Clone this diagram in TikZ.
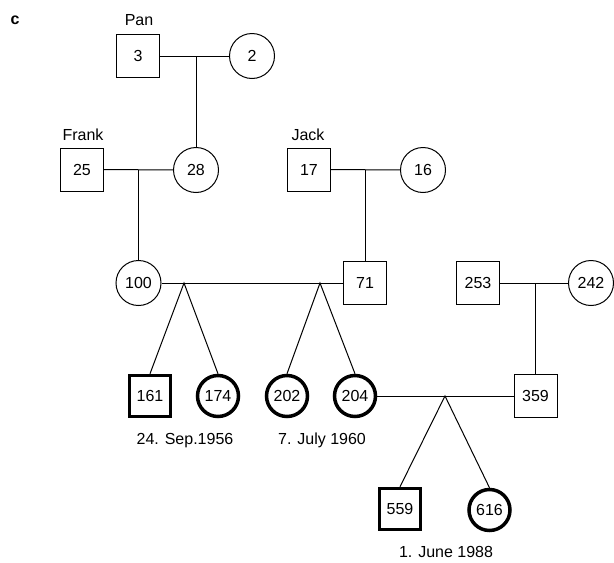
\documentclass[tikz,border=0pt]{standalone}
\usepackage{fontspec}
\setmainfont{Liberation Sans}

\begin{document}
\begin{tikzpicture}[x=1pt, y=-1pt, line width=1pt,
  font=\fontsize{16}{19}\selectfont,
  male/.style={draw, rectangle, minimum size=43pt, inner sep=0pt},
  female/.style={draw, circle, minimum size=45pt, inner sep=0pt},
  aff/.style={line width=3.5pt, minimum size=41pt},
  lbl/.style={anchor=base, inner sep=0pt}]
  \useasboundingbox (0,0) rectangle (614,563);
  \node[lbl, font=\fontsize{16}{19}\selectfont\bfseries] (tag) at (15,24) {c};
  % generation I
  \node[male] (p3) at (138,56) {3};
  \node[female] (p2) at (252,56) {2};
  \node[lbl] (pan) at (139,25) {Pan};
  % generation II
  \node[male] (p25) at (82,169.5) {25};
  \node[female] (p28) at (196,170) {28};
  \node[male] (p17) at (309,169.5) {17};
  \node[female] (p16) at (423,170) {16};
  \node[lbl] (frank) at (83,140) {Frank};
  \node[lbl] (jack) at (308,140) {Jack};
  % generation III
  \node[female] (p100) at (138.5,283) {100};
  \node[male] (p71) at (365,283) {71};
  \node[male] (p253) at (478,283) {253};
  \node[female] (p242) at (591,283) {242};
  % generation IV (affected in bold)
  \node[male, aff] (p161) at (150,396) {161};
  \node[female, aff] (p174) at (218,396) {174};
  \node[female, aff] (p202) at (287,396) {202};
  \node[female, aff] (p204) at (355,396) {204};
  \node[male] (p359) at (535.5,396) {359};
  % generation V
  \node[male, aff] (p559) at (400,509) {559};
  \node[female, aff] (p616) at (489.5,510) {616};
  % twin vertices on the mating lines
  \coordinate (t1) at (184,283);
  \coordinate (t2) at (320,283);
  \coordinate (t3) at (445,396);
  % birth dates of the twins
  \node[lbl] (d1) at (185,444) {24. Sep.1956};
  \node[lbl] (d2) at (322,444) {7. July 1960};
  \node[lbl] (d3) at (446,557) {1. June 1988};
  % matings
  \draw (p3) -- (p2);
  \draw (p25) -- (p28);
  \draw (p17) -- (p16);
  \draw (p100) -- (p71);
  \draw (p253) -- (p242);
  \draw (p204) -- (p359);
  % descent lines
  \foreach \c/\m in {p28/p3, p100/p25, p71/p17, p359/p253}
    \draw (\c |- \m) -- (\c);
  \foreach \t/\a/\b in {t1/p161/p174, t2/p202/p204, t3/p559/p616}
    \draw (\a.north) -- (\t) -- (\b.north);
\end{tikzpicture}
\end{document}
